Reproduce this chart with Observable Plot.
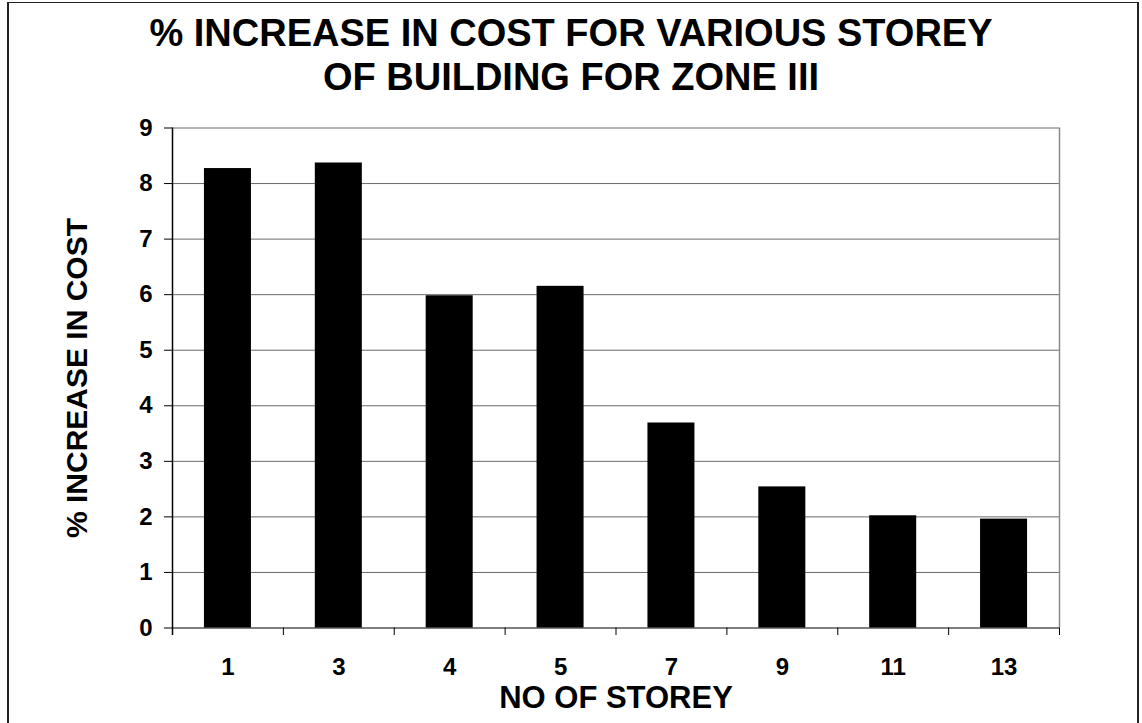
<!DOCTYPE html>
<html>
<head>
<meta charset="utf-8">
<script src="https://cdn.jsdelivr.net/npm/d3@7"></script>
<script src="https://cdn.jsdelivr.net/npm/@observablehq/plot@0.6"></script>
<style>
  body { margin: 0; background: #fff; }
  #wrap { position: relative; width: 1142px; height: 723px; overflow: hidden; font-family: "Liberation Sans", Arial, sans-serif; }
  #frame { position: absolute; left: 7px; top: 2px; width: 1132px; height: 740px; border-left: 2px solid #222; border-right: 2px solid #222; border-top: 1px solid #222; box-sizing: border-box; }
  #title { position: absolute; left: 0; top: 11px; width: 1142px; text-align: center; font-weight: bold; font-size: 38px; line-height: 44px; color: #000; }
  #chart { position: absolute; left: 0; top: 0; }
</style>
</head>
<body>
<div id="wrap">
  <div id="frame"></div>
  <div id="chart"></div>
  <div id="title">% INCREASE IN COST FOR VARIOUS STOREY<br>OF BUILDING FOR ZONE III</div>
</div>
<script>
// Data
const storeys = ["1", "3", "4", "5", "7", "9", "11", "13"];
const increase = [8.27, 8.37, 5.98, 6.15, 3.69, 2.54, 2.02, 1.96];
const yTicks = [0, 1, 2, 3, 4, 5, 6, 7, 8, 9];
const xLabel = "NO OF STOREY";
const yLabel = "% INCREASE IN COST";

const data = storeys.map((s, i) => ({ idx: i, storey: s, value: increase[i] }));
const edges = d3.range(storeys.length + 1).map(i => i - 0.5);
const barHalf = 0.212;

const W = 1142, H = 723;
const mL = 172, mR = 83, mT = 127.5, mB = 95.5;
const plotH = H - mT - mB;

const chart = Plot.plot({
  width: W,
  height: H,
  marginLeft: mL,
  marginRight: mR,
  marginTop: mT,
  marginBottom: mB,
  style: { fontFamily: "'Liberation Sans', Arial, sans-serif", background: "transparent", color: "#000", overflow: "visible" },
  x: { type: "linear", domain: [-0.5, storeys.length - 0.5] },
  y: { domain: [0, 9] },
  marks: [
    // horizontal gridlines
    Plot.ruleY(yTicks.slice(1), { stroke: "#6a6a6a", strokeWidth: 1 }),
    // right plot border (gray)
    Plot.ruleX([edges[edges.length - 1]], { stroke: "#8a8a8a", strokeWidth: 1.5 }),
    // bars
    Plot.rectY(data, { x1: d => d.idx - barHalf, x2: d => d.idx + barHalf, y: "value", fill: "#000" }),
    // category boundary ticks below baseline
    Plot.ruleX(edges, { stroke: "#000", strokeWidth: 1, insetTop: plotH, insetBottom: -7.5 }),
    // left axis line
    Plot.ruleX([edges[0]], { stroke: "#000", strokeWidth: 1.5, insetBottom: -7.5 }),
    // baseline
    Plot.ruleY([0], { stroke: "#000", strokeWidth: 1 }),
    Plot.axisY({ ticks: yTicks, tickSize: 8, tickPadding: 12, fontSize: 24, fontWeight: "bold", label: null, stroke: "#000" }),
    Plot.axisX({ ticks: d3.range(storeys.length), tickFormat: i => storeys[i], tickSize: 0, tickPadding: 30, fontSize: 24, fontWeight: "bold", label: null }),
    Plot.text([xLabel], { frameAnchor: "bottom", lineAnchor: "bottom", dy: 79.5, fontSize: 31, fontWeight: "bold", fill: "#000" }),
    Plot.text([yLabel], { frameAnchor: "left", textAnchor: "middle", lineAnchor: "bottom", rotate: -90, dx: -86, fontSize: 30, fontWeight: "bold", fill: "#000" })
  ]
});
document.getElementById("chart").appendChild(chart);
</script>
</body>
</html>
